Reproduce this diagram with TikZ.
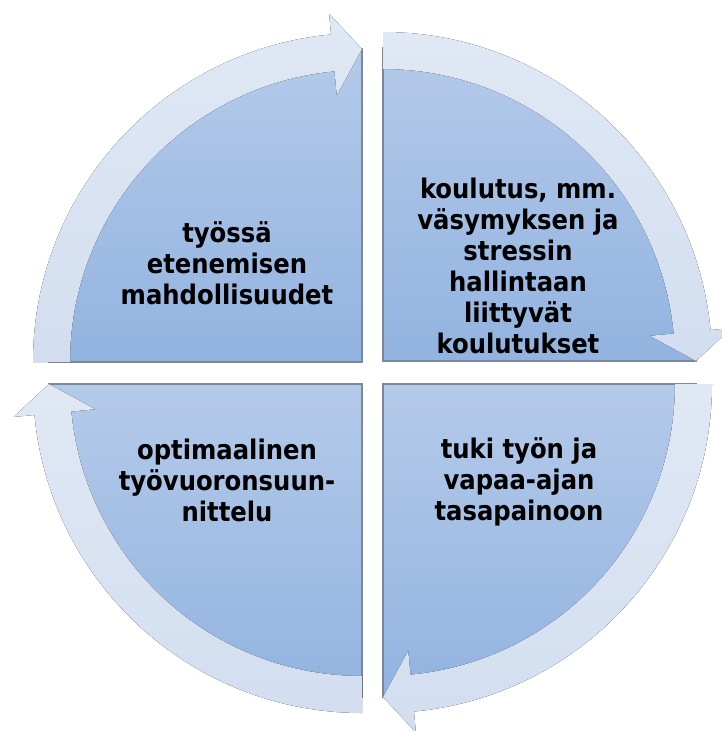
\documentclass[tikz,border=0pt]{standalone}
\usepackage{fontspec}
\setmainfont{DejaVu Sans Condensed}
\definecolor{pietop}{HTML}{B4CAE9}
\definecolor{piebot}{HTML}{92B3E0}
\definecolor{bandtop}{HTML}{E0E8F4}
\definecolor{bandbot}{HTML}{D2DEF0}
\definecolor{edgegray}{HTML}{7D8795}
\tikzset{
  pie/.style={top color=pietop, bottom color=piebot, draw=none},
  band/.style={top color=bandtop, bottom color=bandbot, draw=none},
  edgeline/.style={draw=edgegray, line width=1.2},
  lbl/.style={font=\bfseries\fontsize{27}{31}\selectfont, align=center, inner sep=0pt, text=black}
}
\newcommand\myband[2]{%
  \fill[band] ([shift={#1}] #2:292) -- ([shift={#1}] #2:329)
    arc[start angle=#2, delta angle=84.6, radius=329]
    -- ([shift={#1}] #2+84.6:350) -- ([shift={#1}] #2+90:313)
    -- ([shift={#1}] #2+84.6:268) -- ([shift={#1}] #2+84.6:292)
    arc[start angle=#2+84.6, delta angle=-84.6, radius=292] -- cycle;}
\begin{document}
\begin{tikzpicture}[x=1pt,y=-1pt]
\useasboundingbox (0,0) rectangle (722,731);
\clip (0,0) rectangle (722,731);
% quadrants
\fill[pie] (362,362) -- (48,362) arc[start angle=180,end angle=270,radius=314] -- cycle;
\fill[pie] (383,361) -- (383,47) arc[start angle=270,end angle=360,radius=314] -- cycle;
\fill[pie] (383,384) -- (697,384) arc[start angle=0,end angle=90,radius=314] -- cycle;
\fill[pie] (362,384) -- (362,698) arc[start angle=90,end angle=180,radius=314] -- cycle;
% straight edges
\draw[edgeline] (48,362) -- (362,362) -- (362,48);
\draw[edgeline] (383,47) -- (383,361) -- (697,361);
\draw[edgeline] (697,384) -- (383,384) -- (383,698);
\draw[edgeline] (362,698) -- (362,384) -- (48,384);
% circular arrows
\myband{(362,362)}{180}
\myband{(383,361)}{270}
\myband{(383,384)}{0}
\myband{(362,384)}{90}
% labels
\node[lbl] (t1) at (227,263) {työssä\\etenemisen\\mahdollisuudet};
\node[lbl] (t2) at (518,266) {koulutus, mm.\\väsymyksen ja\\stressin\\hallintaan\\liittyvät\\koulutukset};
\node[lbl] (t3) at (519,482) {tuki työn ja\\vapaa-ajan\\tasapainoon};
\node[lbl] (t4) at (227,480) {optimaalinen\\työvuoronsuun-\\nittelu};
\end{tikzpicture}
\end{document}
